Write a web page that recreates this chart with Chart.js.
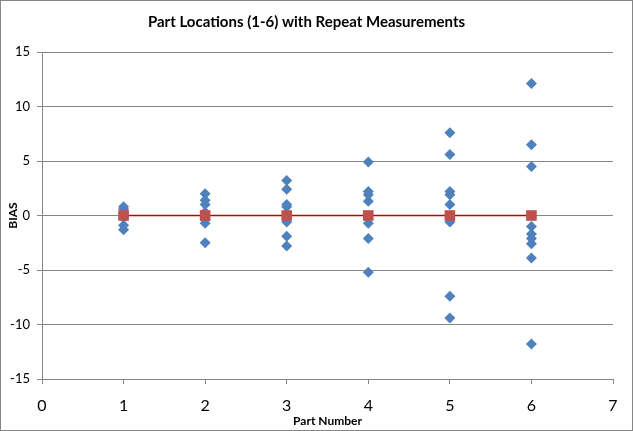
<!DOCTYPE html>
<html>
<head>
<meta charset="utf-8">
<script src="https://cdn.jsdelivr.net/npm/chart.js@4/dist/chart.umd.min.js"></script>
<style>
  html, body { margin:0; padding:0; background:#fff; }
  #wrap { width:633px; height:431px; position:relative; }
</style>
</head>
<body>
<div id="wrap"><canvas id="c" width="633" height="431"></canvas></div>
<script>
const PART_1 = [0.8, 0.6, 0.2, -0.2, -0.9, -1.3];
const PART_2 = [2.0, 1.4, 1.0, 0.3, -0.4, -0.7, -2.5];
const PART_3 = [3.2, 2.4, 1.0, 0.8, -0.6, -1.9, -2.8];
const PART_4 = [4.9, 2.2, 1.9, 1.3, -0.7, -2.1, -5.2];
const PART_5 = [7.6, 5.6, 2.2, 1.9, 1.0, -0.6, -7.4, -9.4];
const PART_6 = [12.1, 6.5, 4.5, -1.0, -1.7, -2.1, -2.6, -3.9, -11.8];
const PARTS = [1, 2, 3, 4, 5, 6];
const AVERAGES = [0, 0, 0, 0, 0, 0];

const X_TICKS = [0, 1, 2, 3, 4, 5, 6, 7];
const Y_TICKS = [-15, -10, -5, 0, 5, 10, 15];

const GRID = "#868686";
const FONT = "Lato, 'Open Sans', sans-serif";

const measurements = [];
[PART_1, PART_2, PART_3, PART_4, PART_5, PART_6].forEach((vals, i) => {
  vals.forEach(v => measurements.push({x: PARTS[i], y: v}));
});
const avgPts = PARTS.map((p, i) => ({x: p, y: AVERAGES[i]}));

// outer chart border
const frame = {
  id: "frame",
  afterDraw(chart){
    const ctx = chart.ctx;
    ctx.save();
    ctx.strokeStyle = GRID;
    ctx.lineWidth = 1;
    ctx.strokeRect(0.5, 0.5, chart.width - 1, chart.height - 1);
    ctx.restore();
  }
};

new Chart(document.getElementById("c"), {
  type: "scatter",
  data: {
    datasets: [
      {
        label: "Measurements",
        data: measurements,
        pointStyle: "rectRot",
        pointRadius: 5.5,
        pointHoverRadius: 5.5,
        backgroundColor: "#4F81BD",
        borderColor: "#4F81BD",
        borderWidth: 0,
        order: 2
      },
      {
        label: "Average",
        data: avgPts,
        showLine: true,
        pointStyle: "rect",
        pointRadius: 7.5,
        pointHoverRadius: 7.5,
        pointBackgroundColor: "#C0504D",
        pointBorderColor: "#C0504D",
        pointBorderWidth: 0,
        borderColor: "#C00000",
        borderWidth: 1.5,
        order: 1
      }
    ]
  },
  options: {
    responsive: false,
    animation: false,
    layout: { padding: { left: 0, right: 20, top: 0, bottom: 0 } },
    plugins: {
      legend: { display: false },
      tooltip: { enabled: false },
      title: {
        display: true,
        text: "Part Locations (1-6) with Repeat Measurements",
        color: "#000",
        font: { family: FONT, size: 15, weight: "bold" },
        padding: { top: 13, bottom: 21 }
      }
    },
    scales: {
      x: {
        type: "linear",
        min: 0, max: 7,
        afterBuildTicks: s => { s.ticks = X_TICKS.map(v => ({value: v})); },
        afterFit: s => { s.height = 52; },
        grid: { drawOnChartArea: false, drawTicks: true, tickLength: 5, color: GRID },
        border: { color: GRID },
        ticks: { color: "#000", font: { family: FONT, size: 16 }, padding: 12, maxRotation: 0 },
        title: {
          display: true, text: "Part Number", color: "#000",
          font: { family: FONT, size: 12, weight: "bold" },
          padding: { top: 0, bottom: 3 }
        }
      },
      y: {
        type: "linear",
        min: -15, max: 15,
        afterBuildTicks: s => { s.ticks = Y_TICKS.map(v => ({value: v})); },
        afterFit: s => { s.width = 42; },
        grid: { color: GRID, tickLength: 5 },
        border: { color: GRID },
        ticks: { color: "#000", font: { family: FONT, size: 13 }, padding: 7 },
        title: {
          display: true, text: "BIAS", color: "#000",
          font: { family: FONT, size: 12, weight: "bold" },
          padding: { top: 6, bottom: 0 }
        }
      }
    }
  },
  plugins: [frame]
});
</script>
</body>
</html>
